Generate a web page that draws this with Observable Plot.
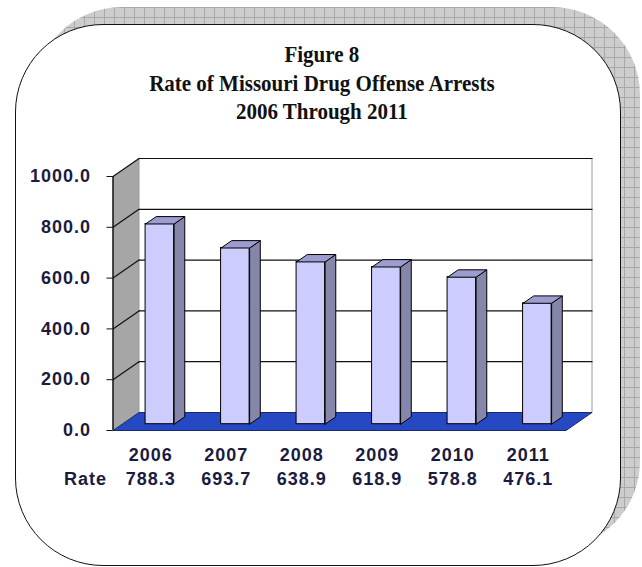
<!DOCTYPE html>
<html><head><meta charset="utf-8">
<script src="https://cdn.jsdelivr.net/npm/d3@7"></script>
<script src="https://cdn.jsdelivr.net/npm/@observablehq/plot@0.6"></script>
<style>
html,body{margin:0;padding:0;background:#fff;width:642px;height:567px;overflow:hidden}
#wrap{position:relative;width:642px;height:567px}
#shadow{position:absolute;left:34px;top:7px;width:606px;height:542px;border-radius:88px;
  background-color:#cdcdcd;
  background-image:linear-gradient(#a8a8a8 1px,transparent 1px),linear-gradient(90deg,#a8a8a8 1px,transparent 1px);
  background-size:10px 10px;}
#box{position:absolute;left:15px;top:24px;width:606px;height:542px;box-sizing:border-box;border:1px solid #111;border-radius:88px;background:#fff}
#title{position:absolute;left:15px;width:610px;top:40px;text-align:center;font-family:'Liberation Serif','Times New Roman',serif;font-weight:bold;font-size:24px;line-height:28.5px;color:#111;transform:scaleX(0.875);transform-origin:320px 0}
#chart{position:absolute;left:0;top:0}
#chart svg text{letter-spacing:1px}
</style></head>
<body><div id="wrap"><div id="shadow"></div><div id="box"></div><div id="title"></div><div id="chart"></div></div>
<script>
const titleLines = ["Figure 8", "Rate of Missouri Drug Offense Arrests", "2006 Through 2011"];
const years = ["2006", "2007", "2008", "2009", "2010", "2011"];
const rates = [788.3, 693.7, 638.9, 618.9, 578.8, 476.1];
const yTicks = [0, 200, 400, 600, 800, 1000];
const rowLabel = "Rate";

document.getElementById("title").innerHTML = titleLines.map(t => `<div>${t}</div>`).join("");

const TEXT = "#1b1b3f";
const U0 = -0.5, U1 = years.length - 0.5, VMAX = yTicks[yTicks.length - 1];
// oblique projection: full depth shifts 26px right, 18px up (in data units)
const DX = 26 / 75.5, DY = 18 / 0.254;
const P = (u, v, d) => ({x: u + d * DX, y: v + d * DY});
const poly = (id, pts) => [...pts, pts[0]].map(p => ({id, ...p}));
const seg = (id, a, b) => [{id, ...a}, {id, ...b}];

const dF = 0.35, dB = 0.76, HW = 0.189;

const sideWall = poly("side", [P(U0,0,0), P(U0,VMAX,0), P(U0,VMAX,1), P(U0,0,1)]);
const floor = poly("floor", [P(U0,0,0), P(U1,0,0), P(U1,0,1), P(U0,0,1)]);
const gridBack = yTicks.filter(v => v > 0).flatMap(v => seg("b" + v, P(U0,v,1), P(U1,v,1)));
const gridSide = yTicks.filter(v => v > 0).flatMap(v => seg("s" + v, P(U0,v,0), P(U0,v,1)));
const wallEdges = [...seg("r", P(U1,0,1), P(U1,VMAX,1)), ...seg("l", P(U0,0,1), P(U0,VMAX,1))];

const sideFaces = rates.flatMap((v, i) => poly("sf" + i, [P(i+HW,0,dF), P(i+HW,0,dB), P(i+HW,v,dB), P(i+HW,v,dF)]));
const topFaces = rates.flatMap((v, i) => poly("tf" + i, [P(i-HW,v,dF), P(i+HW,v,dF), P(i+HW,v,dB), P(i-HW,v,dB)]));

const chart = Plot.plot({
  width: 642, height: 567,
  marginLeft: 112.5, marginRight: 76.5, marginTop: 176, marginBottom: 137,
  x: {domain: [U0, U1]},
  y: {domain: [0, VMAX]},
  style: {background: "transparent", fontFamily: "'Liberation Sans', Arial, sans-serif", overflow: "visible"},
  marks: [
    Plot.line(sideWall, {x: "x", y: "y", z: "id", fill: "#a6a6a6", stroke: "none"}),
    Plot.line(wallEdges, {x: "x", y: "y", z: "id", stroke: "#9a9a9a", strokeWidth: 1}),
    Plot.line(gridBack, {x: "x", y: "y", z: "id", stroke: "#111", strokeWidth: 1.2}),
    Plot.line(gridSide, {x: "x", y: "y", z: "id", stroke: "#111", strokeWidth: 1.2}),
    Plot.line(floor, {x: "x", y: "y", z: "id", fill: "#2648c2", stroke: "#1a2a6a", strokeWidth: 1}),
    Plot.rect(rates, {x1: (d, i) => P(i - HW, 0, dF).x, x2: (d, i) => P(i + HW, 0, dF).x,
                      y1: () => P(0, 0, dF).y, y2: d => P(0, d, dF).y,
                      fill: "#ccccff", stroke: "#000", strokeWidth: 1}),
    Plot.line(sideFaces, {x: "x", y: "y", z: "id", fill: "#8686aa", stroke: "#000", strokeWidth: 1}),
    Plot.line(topFaces, {x: "x", y: "y", z: "id", fill: "#9c9cd0", stroke: "#000", strokeWidth: 1}),
    Plot.ruleX([U0], {y1: 0, y2: VMAX, stroke: "#111", strokeWidth: 1.5}),
    Plot.axisY(yTicks, {anchor: "left", tickSize: 6, tickPadding: 16, tickFormat: d => d.toFixed(1),
                        fontSize: 18, fontWeight: "bold", fill: TEXT, stroke: "#111", label: null}),
    Plot.axisX(d3.range(years.length), {anchor: "bottom", tickSize: 0, tickPadding: 18, tickFormat: i => years[i],
                        fontSize: 18, fontWeight: "bold", fill: TEXT, label: null}),
    Plot.text(rates, {x: (d, i) => i, frameAnchor: "bottom", dy: 54, text: d => d.toFixed(1),
                      fontSize: 18, fontWeight: "bold", fill: TEXT}),
    Plot.text([rowLabel], {x: U0, frameAnchor: "bottom", dy: 54, dx: -6, textAnchor: "end", text: d => d,
                      fontSize: 18, fontWeight: "bold", fill: TEXT})
  ]
});
document.getElementById("chart").appendChild(chart);
</script>
</body></html>
